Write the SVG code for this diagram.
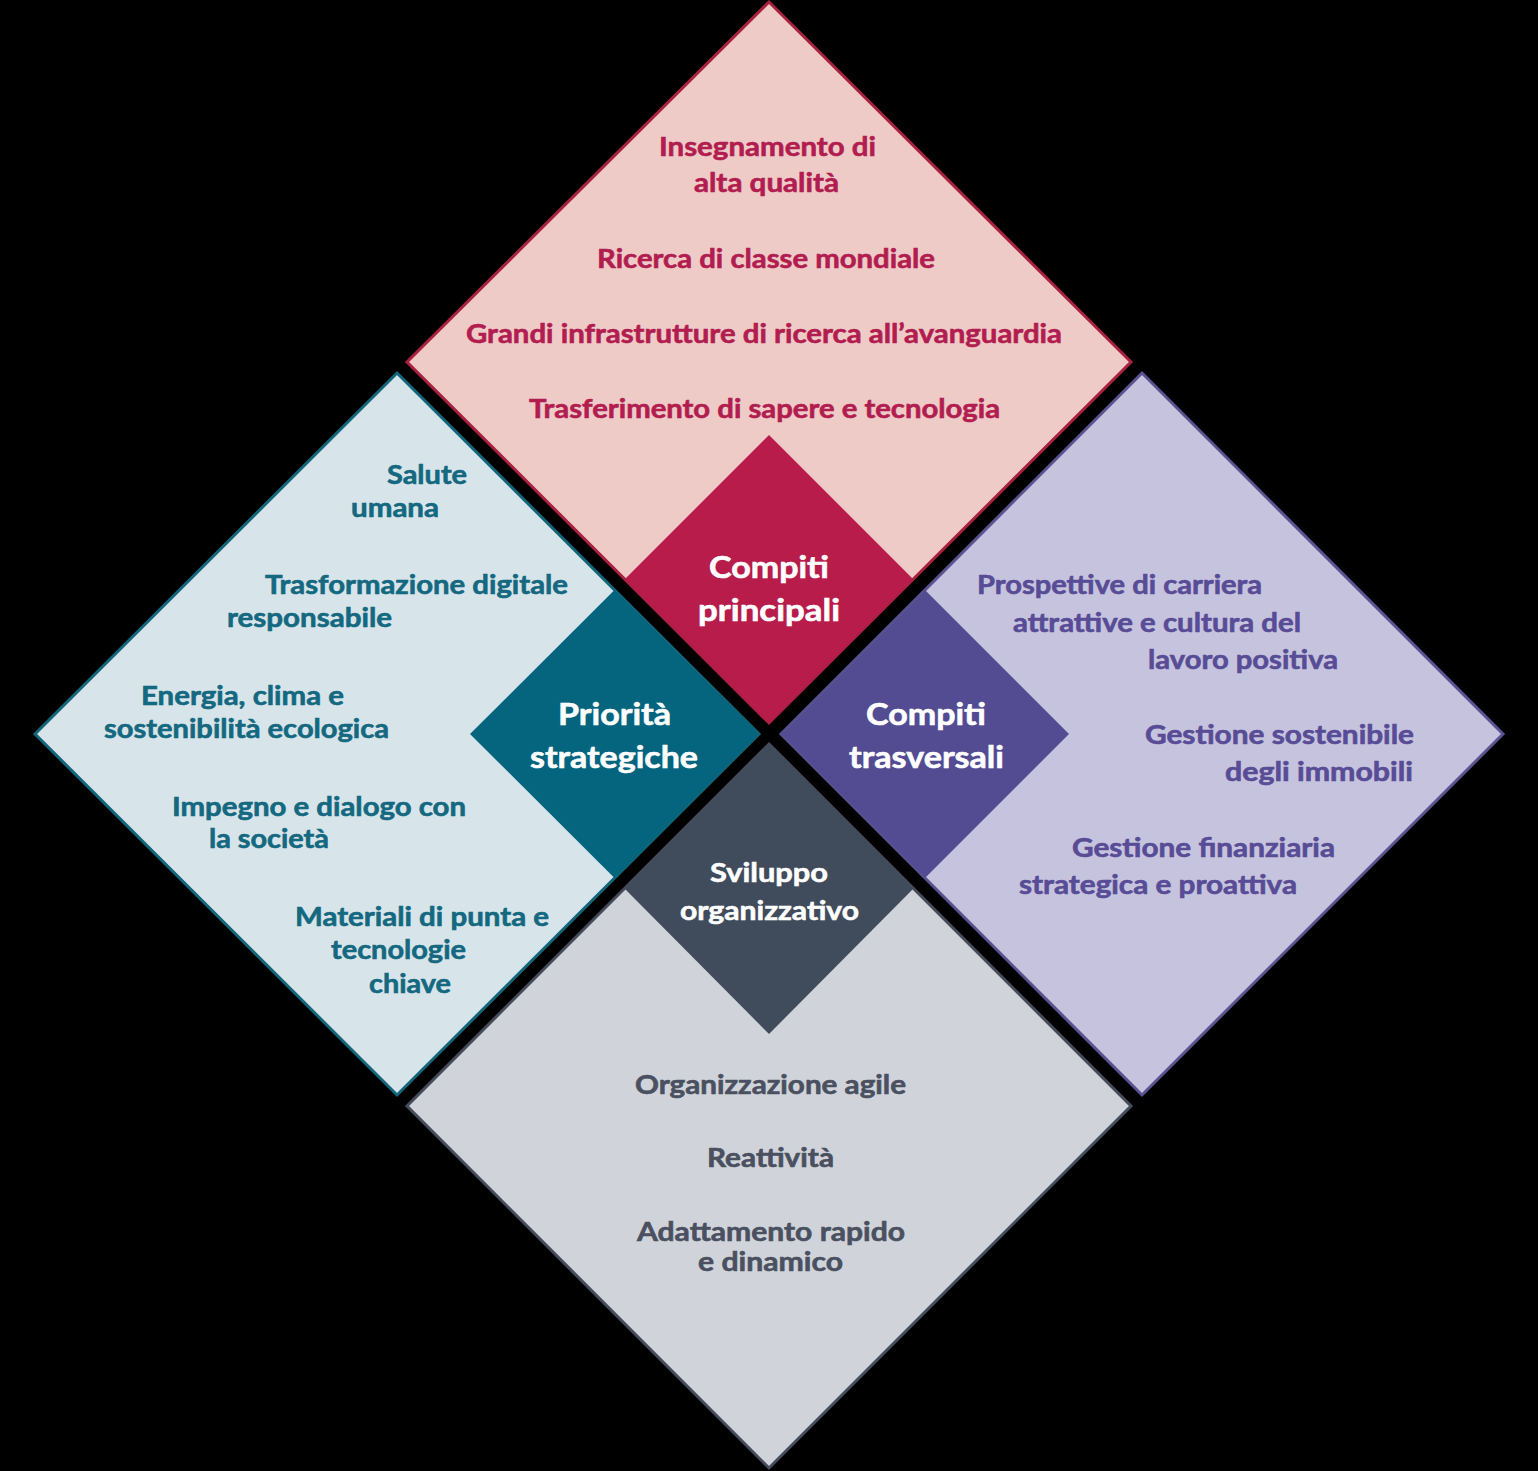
<svg xmlns="http://www.w3.org/2000/svg" width="1538" height="1471" viewBox="0 0 1538 1471">
<style>
text{font-family:Lato,"Open Sans","Liberation Sans",sans-serif;font-weight:bold;text-anchor:middle;stroke-width:0.6px}
.b{font-size:26px}
.c{font-size:31px;fill:#fff;stroke:#fff}
.cs{font-size:27px;fill:#fff;stroke:#fff}
.tr{fill:#b21d50;stroke:#b21d50}.tt{fill:#14687f;stroke:#14687f}.tp{fill:#574c95;stroke:#574c95}.tg{fill:#4a5060;stroke:#4a5060}
</style>
<rect width="1538" height="1471" fill="#000"/>
<g id="top">
<polygon points="769,2 1131,362 769,723 407,362" fill="#efcbc8" stroke="#a8213f" stroke-width="3"/>
<text class="b tr" x="767.5" y="156" textLength="217" lengthAdjust="spacingAndGlyphs">Insegnamento di</text>
<text class="b tr" x="766.5" y="192" textLength="145" lengthAdjust="spacingAndGlyphs">alta qualità</text>
<text class="b tr" x="766" y="268" textLength="338" lengthAdjust="spacingAndGlyphs">Ricerca di classe mondiale</text>
<text class="b tr" x="764" y="343" textLength="596" lengthAdjust="spacingAndGlyphs">Grandi infrastrutture di ricerca all’avanguardia</text>
<text class="b tr" x="764.5" y="418" textLength="471" lengthAdjust="spacingAndGlyphs">Trasferimento di sapere e tecnologia</text>
</g>
<g id="left">
<polygon points="397,373 759,734 397,1095 35,734" fill="#d7e5eb" stroke="#136579" stroke-width="3"/>
<text class="b tt" x="427" y="484" textLength="80" lengthAdjust="spacingAndGlyphs">Salute</text>
<text class="b tt" x="395" y="517" textLength="88" lengthAdjust="spacingAndGlyphs">umana</text>
<text class="b tt" x="416.5" y="594" textLength="303" lengthAdjust="spacingAndGlyphs">Trasformazione digitale</text>
<text class="b tt" x="309.5" y="627" textLength="165" lengthAdjust="spacingAndGlyphs">responsabile</text>
<text class="b tt" x="242.5" y="705" textLength="203" lengthAdjust="spacingAndGlyphs">Energia, clima e</text>
<text class="b tt" x="246.5" y="738" textLength="285" lengthAdjust="spacingAndGlyphs">sostenibilità ecologica</text>
<text class="b tt" x="319" y="816" textLength="294" lengthAdjust="spacingAndGlyphs">Impegno e dialogo con</text>
<text class="b tt" x="269" y="848" textLength="120" lengthAdjust="spacingAndGlyphs">la società</text>
<text class="b tt" x="422" y="926" textLength="254" lengthAdjust="spacingAndGlyphs">Materiali di punta e</text>
<text class="b tt" x="398.5" y="959" textLength="135" lengthAdjust="spacingAndGlyphs">tecnologie</text>
<text class="b tt" x="410" y="993" textLength="82" lengthAdjust="spacingAndGlyphs">chiave</text>
</g>
<g id="right">
<polygon points="1142,373 1503,734 1142,1095 781,734" fill="#c6c3de" stroke="#5a5291" stroke-width="3"/>
<text class="b tp" x="1119.5" y="594" textLength="285" lengthAdjust="spacingAndGlyphs">Prospettive di carriera</text>
<text class="b tp" x="1157" y="632" textLength="288" lengthAdjust="spacingAndGlyphs">attrattive e cultura del</text>
<text class="b tp" x="1243" y="669" textLength="190" lengthAdjust="spacingAndGlyphs">lavoro positiva</text>
<text class="b tp" x="1279.5" y="744" textLength="269" lengthAdjust="spacingAndGlyphs">Gestione sostenibile</text>
<text class="b tp" x="1319" y="781" textLength="188" lengthAdjust="spacingAndGlyphs">degli immobili</text>
<text class="b tp" x="1203.5" y="857" textLength="263" lengthAdjust="spacingAndGlyphs">Gestione finanziaria</text>
<text class="b tp" x="1158" y="894" textLength="278" lengthAdjust="spacingAndGlyphs">strategica e proattiva</text>
</g>
<g id="bottom">
<polygon points="769,744 1131,1106 769,1468 407,1106" fill="#d0d4da" stroke="#454d5c" stroke-width="3"/>
<text class="b tg" x="770.5" y="1094" textLength="271" lengthAdjust="spacingAndGlyphs">Organizzazione agile</text>
<text class="b tg" x="770.5" y="1167" textLength="127" lengthAdjust="spacingAndGlyphs">Reattività</text>
<text class="b tg" x="771" y="1241" textLength="268" lengthAdjust="spacingAndGlyphs">Adattamento rapido</text>
<text class="b tg" x="770.5" y="1271" textLength="145" lengthAdjust="spacingAndGlyphs">e dinamico</text>
</g>
<g id="compiti-principali">
<polygon points="769,435 913,579 769,723 625,579" fill="#b71c4b"/>
<text class="c" x="769" y="578" textLength="120" lengthAdjust="spacingAndGlyphs">Compiti</text>
<text class="c" x="769" y="621" textLength="142" lengthAdjust="spacingAndGlyphs">principali</text>
</g>
<g id="priorita-strategiche">
<polygon points="614.5,590 759,734 614.5,878 470,734" fill="#05657e"/>
<text class="c" x="614.5" y="725" textLength="113" lengthAdjust="spacingAndGlyphs">Priorità</text>
<text class="c" x="614" y="768" textLength="168" lengthAdjust="spacingAndGlyphs">strategiche</text>
</g>
<g id="compiti-trasversali">
<polygon points="925,590 1069,734 925,878 781,734" fill="#534c93"/>
<text class="c" x="926" y="725" textLength="120" lengthAdjust="spacingAndGlyphs">Compiti</text>
<text class="c" x="926.5" y="768" textLength="155" lengthAdjust="spacingAndGlyphs">trasversali</text>
</g>
<g id="sviluppo-organizzativo">
<polygon points="769,744 913,889 769,1034 625,889" fill="#404b5b"/>
<text class="cs" x="769" y="882" textLength="118" lengthAdjust="spacingAndGlyphs">Sviluppo</text>
<text class="cs" x="769.5" y="920" textLength="179" lengthAdjust="spacingAndGlyphs">organizzativo</text>
</g>
<g id="connectors"/>
</svg>
